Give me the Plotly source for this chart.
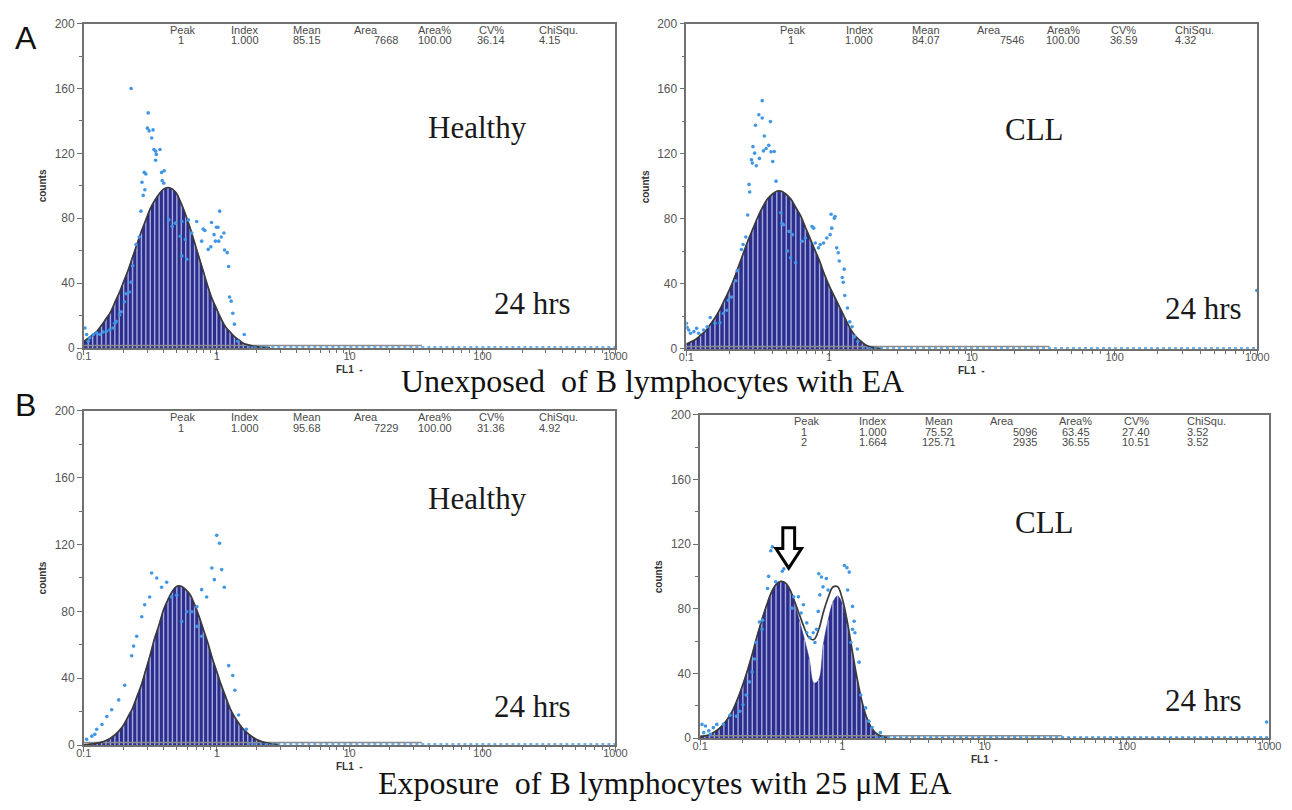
import plotly.graph_objects as go

W, H = 1292, 810

# ---------------- channel geometry ----------------
CH_PER_DECADE = 30          # histogram channels per decade of FL1
FL1_START = 0.1             # first channel

headers = ['Peak', 'Index', 'Mean', 'Area', 'Area%', 'CV%', 'ChiSqu.']
x_tick_vals = [0.1, 1, 10, 100, 1000]
x_tick_text = ['0.1', '1', '10', '100', '1000']

# ---------------- Panel A left : healthy, unexposed ----------------
ah_bars = [4, 6, 8, 10.5, 14, 18, 22, 28, 34, 41, 48, 56, 64, 72, 79, 86, 91, 95, 98, 99,
           98, 95, 89, 82, 74, 65, 56, 47, 38, 30, 24, 18, 13, 10, 7, 5, 3, 2, 1.4, 0.9,
           0.6, 0.4, 0.2]
ah_dots_x = [0.227, 0.305, 0.301, 0.310, 0.332, 0.324, 0.337, 0.347, 0.374, 0.351, 0.347, 0.285,
             0.293, 0.403, 0.385, 0.389, 0.400, 0.274, 0.288, 0.280, 0.269,
             0.436, 0.489, 0.547, 0.613, 0.707, 0.462, 0.532, 0.580, 0.649, 0.771, 0.863, 0.547, 0.596,
             0.914, 1.052, 0.995, 1.023, 1.133, 1.083, 0.815, 0.792, 0.955, 0.977, 1.035, 0.903,
             1.146, 1.200, 1.228, 1.248, 1.285, 1.321, 1.359, 1.611, 1.439,
             0.247, 0.261, 0.233, 0.227, 0.220, 0.208, 0.202, 0.191, 0.186, 0.175, 0.171, 0.166,
             0.157, 0.148, 0.140, 0.132, 0.125, 0.118, 0.111, 0.105, 0.108, 0.102]
ah_dots_y = [160, 145, 135.6, 133.9, 134.5, 129.5, 122.4, 121.4, 122.4, 119.4, 115.8, 108.3,
             107.3, 109.3, 108.3, 103.2, 101.6, 102.2, 97.6, 94.1, 84.4,
             79, 77, 78, 79, 78, 75, 68.9, 66.9, 70.9, 65.9, 60.8, 56.8, 54.7,
             77.4, 84.4, 74.5, 74.5, 70.9, 68.5, 72.5, 73.3, 69.9, 65.9, 65.9, 62.4,
             60.4, 58.8, 50.3, 31.5, 28.9, 21.4, 14.7, 8.3, 4.2,
             63.8, 68.5, 50.7, 40.6, 34.5, 33.5, 28.5, 22.4, 20.4, 16.4, 15.3, 12.3,
             11.3, 10.3, 9.9, 8.3, 9.3, 8.3, 6.3, 8.3, 4.2, 12.3]
ah_stats = [['1', '1.000', '85.15', '7668', '100.00', '36.14', '4.15']]

# ---------------- Panel A right : CLL, unexposed ----------------
ac_bars = [3, 4.5, 6, 8.5, 11, 15, 19, 24, 30, 36, 43, 51, 59, 67, 74, 81, 87, 92, 95, 97,
           97, 95, 92, 87, 82, 75, 68, 61, 54, 46, 39, 33, 27, 21, 15, 10, 6.5, 4, 2, 1,
           0.5, 0.2]
ac_dots_x = [0.340, 0.322, 0.340, 0.305, 0.388, 0.352, 0.293, 0.378, 0.362, 0.347, 0.392, 0.413,
             0.301, 0.325, 0.286, 0.290, 0.309, 0.403, 0.425, 0.275, 0.278, 0.269, 0.261, 0.250,
             0.243, 0.227, 0.222, 0.207, 0.197, 0.192, 0.182, 0.172, 0.159, 0.147, 0.140, 0.132,
             0.122, 0.113, 0.107, 0.104, 0.100, 0.101, 0.118,
             0.459, 0.480, 0.467, 0.524, 0.553, 0.511, 0.538, 0.583, 0.648, 0.682, 0.760, 0.780,
             0.800, 0.843, 0.866, 0.914, 0.964, 1.017, 1.044, 1.033, 1.089, 1.100, 1.130, 1.159,
             1.178, 1.276, 1.236, 1.256, 1.288, 1.346, 1.396, 1.449, 1.510, 1.592, 990]
ac_dots_y = [152.7, 144, 142, 137.6, 139.8, 131, 124.4, 125.2, 123.2, 121.8, 121.2, 121.4,
             120.4, 117.2, 116.4, 114.3, 112.7, 115.3, 103.2, 101.2, 96.5, 82.4, 68.9, 64.2,
             61.2, 48.1, 42, 31.9, 29.9, 23.8, 21.8, 16.1, 15.8, 19.4, 13.7, 11.7,
             9.7, 10.7, 9.7, 11.7, 15.8, 13.3, 12.7,
             83.8, 76.4, 77.3, 72.3, 70.3, 60.2, 56.1, 53.1, 66.2, 68.2, 75.3, 74.3,
             65.2, 62.2, 64.2, 65.2, 68.2, 70.3, 74.3, 82.8, 80.4, 81.4, 62.2, 59.2,
             54.1, 49.1, 44, 41, 32.9, 25.2, 16.7, 13.7, 7.6, 4.6, 36]
ac_stats = [['1', '1.000', '84.07', '7546', '100.00', '36.59', '4.32']]

# ---------------- Panel B left : healthy, 25 uM EA ----------------
bh_bars = [0.2, 0.4, 0.7, 1.1, 1.7, 2.7, 4, 6, 8.6, 12, 17, 22, 29, 36, 45, 54, 64, 72, 81, 87,
           92, 95, 95, 93, 90, 84, 77, 69, 61, 52, 44, 36, 29, 22, 17, 13, 9.5, 7, 5, 3.3,
           2.2, 1.4, 0.9, 0.5, 0.3]
bh_dots_x = [1.0, 1.05, 0.92, 1.09, 0.96, 1.14, 0.84, 0.77, 0.71, 0.65, 1.23, 1.32, 1.37, 1.46,
             1.67, 0.354, 0.324, 0.385, 0.42, 0.313, 0.287, 0.273, 0.458, 0.50, 0.25, 0.237,
             0.229, 0.203, 0.183, 0.162, 0.149, 0.137, 0.125, 0.115, 0.105, 0.121, 0.595,
             0.545, 0.77, 0.71]
bh_dots_y = [125.5, 120.8, 106, 105, 99, 94.4, 88.6, 93, 82.7, 79.8, 47.5, 41.6, 32.8, 18,
             9.4, 100, 103, 94.4, 97.4, 88.6, 83.9, 76.8, 88.6, 89.7, 65.1, 59.2,
             53.4, 35.8, 27, 21.1, 17, 12.3, 9.4, 5.3, 3.5, 6.4, 79.8,
             73.9, 65.1, 71]
bh_stats = [['1', '1.000', '95.68', '7229', '100.00', '31.36', '4.92']]

# ---------------- Panel B right : CLL, 25 uM EA (two peaks) ----------------
bc_bars = [0.8, 1.4, 2.3, 3.8, 5.8, 8.8, 12.8, 18, 25, 33, 42, 52, 63, 73, 82, 90, 95, 97, 96, 91,
           83, 72, 61, 49, 34, 36, 58, 73, 84, 88, 83, 71, 54, 38, 24, 14, 7, 3.3, 1.4, 0.6, 0.2]
bc_curve = [0.8, 1.4, 2.3, 3.8, 5.8, 8.8, 12.8, 18, 25, 33, 42, 52, 63, 73, 82, 90, 95, 97, 96, 91.5,
            84, 76, 68, 62, 61, 67, 78, 87, 93.5, 93.7, 86, 72.6, 55.5, 38.6, 24.3, 13.7, 7.1,
            3.3, 1.4, 0.6, 0.2]
bc_dots_x = [0.322, 0.314, 0.355, 0.303, 0.340, 0.298, 0.378, 0.388, 0.275, 0.261, 0.272, 0.247,
             0.241, 0.232, 0.222, 0.211, 0.200, 0.190, 0.180, 0.162, 0.146, 0.131, 0.124, 0.115,
             0.106, 0.118, 0.103, 0.109,
             0.454, 0.443, 0.491, 0.532, 0.513, 0.562, 0.562, 0.592, 0.624, 0.641, 0.658, 0.676,
             0.694, 0.713, 0.683, 0.771, 0.731, 0.793,
             1.033, 1.077, 1.117, 1.089, 1.178, 1.21, 1.178, 1.225, 1.148, 1.274, 1.31, 1.346,
             1.457, 1.536, 1.618, 1.849, 960]
bc_dots_y = [118.3, 115.9, 116.3, 100.1, 96.7, 92.6, 103.2, 104.8, 73, 71.8, 67.3, 59.2,
             49, 40.9, 34.8, 26.7, 20.7, 16.6, 13.6, 14.2, 8.5, 8.5, 6.5, 4.5,
             3.4, 2.4, 8.5, 7.5,
             87.5, 80.4, 87.5, 82.5, 77.4, 71.3, 65.2, 62.2, 65.2, 59.2, 67.3, 78.4,
             88.6, 99.7, 101.7, 98.7, 93.6, 91.6,
             106.8, 105.4, 102.7, 91.6, 81.5, 72.3, 67.3, 65.2, 59.2, 55.1, 47, 26.7,
             18.7, 10.5, 6.5, 3.4, 10]
bc_stats = [['1', '1.000', '75.52', '5096', '63.45', '27.40', '3.52'],
            ['2', '1.664', '125.71', '2935', '36.55', '10.51', '3.52']]

# baseline (residual) of the fit and the scattered baseline events
tail_x = [0.1, 35]
tail_y = [1.5, 1.5]
base_x = [1.7, 1000]
base_y = [0.6, 0.6]

# ---------------- styles ----------------
NAVY = '#2b2e8c'
STRIPE = '#a7aadb'
CURVE = '#3a3a3a'
DOT = '#4097e6'
AXC = '#707070'
TICKF = dict(family='Liberation Sans, Arial, sans-serif', size=11, color='#555555')
YTICKF = dict(family='Liberation Sans, Arial, sans-serif', size=12, color='#555555')
SERIF = 'Liberation Serif, Times New Roman, serif'
SANS = 'Liberation Sans, Arial, sans-serif'

panels = [
    dict(bars=ah_bars, curve=None, dx=ah_dots_x, dy=ah_dots_y, stats=ah_stats,
         x0=77, x1=617, ytop=17, ybot=347, cond='Healthy', cond_xy=(477, 123), hrs_xy=(533, 302)),
    dict(bars=ac_bars, curve=None, dx=ac_dots_x, dy=ac_dots_y, stats=ac_stats,
         x0=689, x1=1269, ytop=17, ybot=348, cond='CLL', cond_xy=(1043, 125), hrs_xy=(1214, 307)),
    dict(bars=bh_bars, curve=None, dx=bh_dots_x, dy=bh_dots_y, stats=bh_stats,
         x0=77, x1=617, ytop=411, ybot=751, cond='Healthy', cond_xy=(477, 500), hrs_xy=(533, 712)),
    dict(bars=bc_bars, curve=bc_curve, dx=bc_dots_x, dy=bc_dots_y, stats=bc_stats,
         x0=703, x1=1281, ytop=415, ybot=744, cond='CLL', cond_xy=(1053, 525), hrs_xy=(1214, 706)),
]

minor_vals = [m * 10 ** e for e in (-1, 0, 1, 2) for m in range(2, 10)]


def px(x):
    return x / W


def py(y):
    return 1 - y / H


def ann(text, x, y, font, xanchor='center', yanchor='middle', **kw):
    return dict(text=text, x=px(x), y=py(y), xref='paper', yref='paper', showarrow=False,
                xanchor=xanchor, yanchor=yanchor, font=font, **kw)


fig = go.Figure()
annotations = []
layout_axes = {}

for i, p in enumerate(panels, start=1):
    xa = 'x' if i == 1 else f'x{i}'
    ya = 'y' if i == 1 else f'y{i}'
    xname = 'xaxis' if i == 1 else f'xaxis{i}'
    yname = 'yaxis' if i == 1 else f'yaxis{i}'

    pos = [FL1_START * 10 ** (k / CH_PER_DECADE) for k in range(len(p['bars']))]

    # filled histogram
    fig.add_trace(go.Scatter(x=pos, y=p['bars'], mode='lines', line=dict(color=NAVY, width=0.6, shape='spline'),
                             fill='tozeroy', fillcolor=NAVY, xaxis=xa, yaxis=ya, hoverinfo='skip'))
    # light channel separators
    sx, sy = [], []
    for k in range(1, len(pos)):
        sx += [pos[k], pos[k], None]
        sy += [0, p['bars'][k], None]
    fig.add_trace(go.Scatter(x=sx, y=sy, mode='lines', line=dict(color=STRIPE, width=1.4),
                             xaxis=xa, yaxis=ya, hoverinfo='skip'))
    # residual baseline of the model
    fig.add_trace(go.Scatter(x=tail_x, y=tail_y, mode='lines', line=dict(color='#8c8c8c', width=1.5),
                             xaxis=xa, yaxis=ya, hoverinfo='skip'))
    # fitted curve
    cv = p['curve'] if p['curve'] is not None else p['bars']
    cpos = [FL1_START * 10 ** (k / CH_PER_DECADE) for k in range(len(cv))]
    fig.add_trace(go.Scatter(x=cpos, y=cv, mode='lines', line=dict(color=CURVE, width=1.7, shape='spline'),
                             xaxis=xa, yaxis=ya, hoverinfo='skip'))
    # raw events along baseline
    fig.add_trace(go.Scatter(x=base_x, y=base_y, mode='lines', line=dict(color=DOT, width=1.6, dash='dot'),
                             xaxis=xa, yaxis=ya, hoverinfo='skip'))
    # raw data points
    fig.add_trace(go.Scatter(x=p['dx'], y=p['dy'], mode='markers',
                             marker=dict(color=DOT, size=3.6, line=dict(width=0)),
                             xaxis=xa, yaxis=ya, hoverinfo='skip'))

    layout_axes[xname] = dict(
        type='log', range=[-1, 3], domain=[px(p['x0']), px(p['x1'])], anchor=ya,
        showline=True, linecolor=AXC, linewidth=1.5, mirror=True, showgrid=False, zeroline=False,
        ticks='outside', ticklen=5, tickwidth=1, tickcolor=AXC,
        tickmode='array', tickvals=x_tick_vals, ticktext=x_tick_text, tickfont=TICKF,
        ticklabelstandoff=-8,
        minor=dict(ticks='outside', ticklen=3, tickwidth=1, tickcolor=AXC,
                   tickmode='array', tickvals=minor_vals, showgrid=False),
    )
    layout_axes[yname] = dict(
        range=[0, 200], domain=[py(p['ybot']), py(p['ytop'])], anchor=xa,
        showline=True, linecolor=AXC, linewidth=1.5, mirror=True, showgrid=False, zeroline=False,
        ticks='outside', ticklen=5, tickwidth=1, tickcolor=AXC, tick0=0, dtick=40, tickfont=YTICKF,
        minor=dict(ticks='outside', ticklen=3, tickwidth=1, tickcolor=AXC, dtick=20, showgrid=False),
    )

    # axis titles
    small = dict(family=SANS, size=10, color='#333')
    annotations.append(ann('<b>counts</b>', p['x0'] - 42, (p['ytop'] + p['ybot']) / 2, small, textangle=-90))
    annotations.append(ann('<b>FL1  -</b>', (p['x0'] + p['x1']) / 2, p['ybot'] + 22, small))

    # statistics table
    w = p['x1'] - p['x0']
    head_pos = [(0.187, 'center'), (0.303, 'center'), (0.419, 'center'), (0.530, 'center'),
                (0.660, 'center'), (0.766, 'center'), (0.852, 'left')]
    val_pos = [(0.183, 'center'), (0.303, 'center'), (0.419, 'center'), (0.595, 'right'),
               (0.660, 'center'), (0.766, 'center'), (0.852, 'left')]
    tf = dict(family=SANS, size=11, color='#4a4a4a')
    for (rx, anc), h in zip(head_pos, headers):
        annotations.append(ann(h, p['x0'] + rx * w, p['ytop'] + 6, tf, xanchor=anc))
    for r, row in enumerate(p['stats']):
        for (rx, anc), v in zip(val_pos, row):
            annotations.append(ann(v, p['x0'] + rx * w, p['ytop'] + 17 + 11 * r, tf, xanchor=anc))

    # condition labels
    big = dict(family=SERIF, size=31, color='#1a1a1a')
    annotations.append(ann(p['cond'], p['cond_xy'][0], p['cond_xy'][1], big))
    annotations.append(ann('24 hrs', p['hrs_xy'][0], p['hrs_xy'][1], big))

# panel letters and captions
letter = dict(family=SANS, size=32, color='#111')
cap = dict(family=SERIF, size=32, color='#111')
annotations += [
    ann('A', 18, 32, letter),
    ann('B', 18, 405, letter),
    ann('Unexposed  of B lymphocytes with EA', 655, 381, cap),
    ann('Exposure\u00a0 of B lymphocytes with 25 \u03bcM EA', 667, 790, cap),
]

# hollow down arrow marking the first (apoptotic) peak in B right
arrow_pts = [(787, 530), (799, 530), (799, 551), (806, 551), (793, 571), (780, 551), (787, 551)]
path = 'M ' + ' L '.join(f'{px(x):.5f},{py(y):.5f}' for x, y in arrow_pts) + ' Z'
shapes = [dict(type='path', path=path, xref='paper', yref='paper',
               line=dict(color='#000', width=3), fillcolor='white')]

fig.update_layout(
    width=W, height=H, margin=dict(l=0, r=0, t=0, b=0),
    paper_bgcolor='white', plot_bgcolor='white', showlegend=False,
    annotations=annotations, shapes=shapes, **layout_axes,
)

fig.write_html('out.html')
